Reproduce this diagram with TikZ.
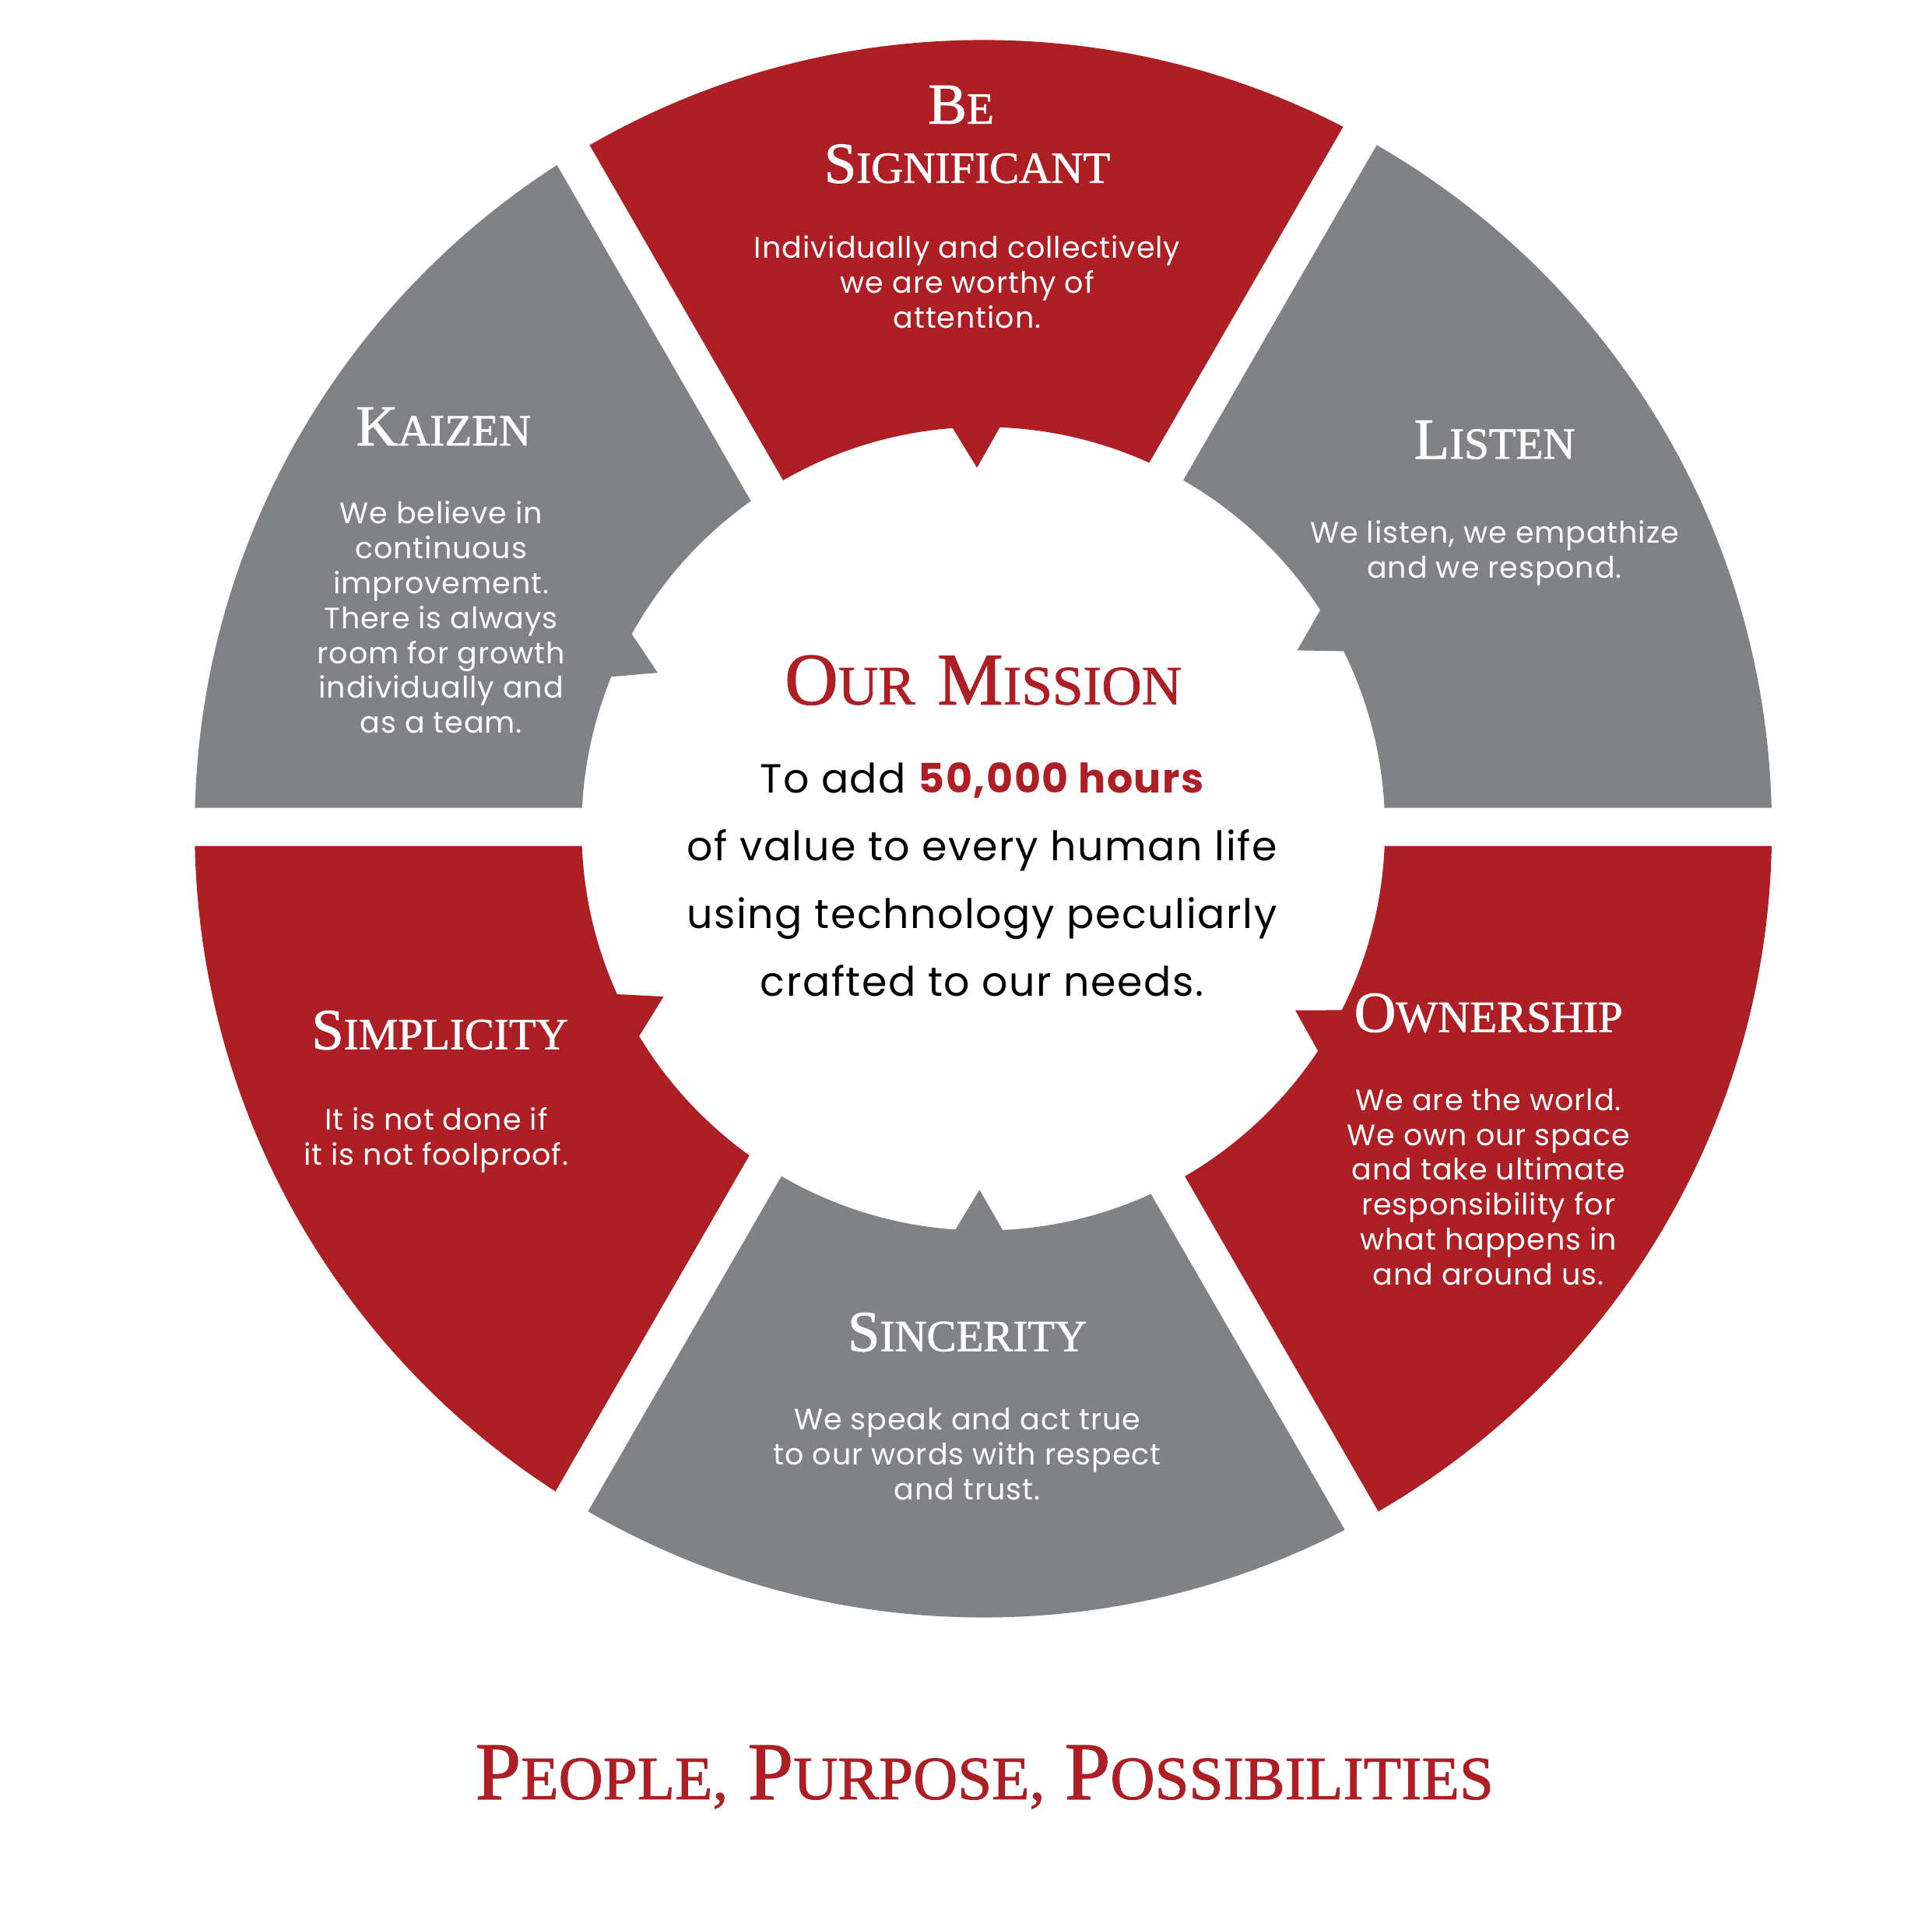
\documentclass[tikz,border=0pt]{standalone}
\usepackage{fontspec}
\usetikzlibrary{calc}
\newfontfamily\bodyfont{Poppins}[LetterSpace=2.5]
\newfontfamily\missionfont{Poppins}[LetterSpace=3]
\newfontfamily\capsfont{Liberation Serif}[FakeBold=1.2]
\definecolor{valred}{HTML}{AD1F24}
\definecolor{valgray}{HTML}{818285}
% a word in caps with a larger initial: sizes, initial, rest
\newcommand\scw[4]{{\fontsize{#1}{#1}\selectfont #3}{\fontsize{#2}{#2}\selectfont #4}}

\begin{document}
\begin{tikzpicture}[x=0.5pt,y=0.5pt,
  segtitle/.style={text=white, font=\capsfont, inner sep=0pt},
  segbody/.style={text=white, font=\bodyfont\fontsize{12}{14.15}\selectfont, align=center, inner sep=0pt},
  redcaps/.style={text=valred, font=\capsfont, inner sep=0pt}]
\useasboundingbox (0,0) rectangle (1568,1566);
\coordinate (O) at (798,893.5);
\coordinate (G) at (780,895);

% six ring sectors separated by straight gaps, each with a pointer towards the centre
\foreach \a/\p/\c in {0/29.6/valgray, 60/91/valred, 120/154.4/valgray,
                      180/207.7/valred, 240/269.4/valgray, 300/329.8/valred} {
  \begin{scope}
    \clip ($(G)+(\a+30:31)$) -- ++(\a:2000) -- ++(\a+120:2000) -- cycle;
    \fill[\c, even odd rule] (O) circle[radius=640] (O) circle[radius=326];
  \end{scope}
  \fill[\c] ($(O)+(\p:293)$) -- ($(O)+(\p+3.9:332)$) -- ($(O)+(\p-3.9:332)$) -- cycle;
}

% sector labels
\node[segtitle] (tBe)  at (780,1481) {\scw{23.5}{18}{B}{E}};
\node[segtitle] (tSig) at (785,1433) {\scw{23.5}{18}{S}{IGNIFICANT}};
\node[segbody]  (bSig) at (785,1337) {Individually and collectively\\we are worthy of\\attention.};

\node[segtitle] (tKai) at (360,1220) {\scw{23.5}{18}{K}{AIZEN}};
\node[segbody]  (bKai) at (358,1065) {We believe in\\continuous\\improvement.\\There is always\\room for growth\\individually and\\as a team.};

\node[segtitle] (tLis) at (1213,1209) {\scw{23.5}{18}{L}{ISTEN}};
\node[segbody]  (bLis) at (1213,1117) {We listen, we empathize\\and we respond.};

\node[segtitle] (tOwn) at (1208,744) {\scw{23.5}{18}{O}{WNERSHIP}};
\node[segbody]  (bOwn) at (1208,603) {We are the world.\\We own our space\\and take ultimate\\responsibility for\\what happens in\\and around us.};

\node[segtitle] (tSim) at (357,730) {\scw{23.5}{18}{S}{IMPLICITY}};
\node[segbody]  (bSim) at (354,641) {It is not done if\\it is not foolproof.};

\node[segtitle] (tSin) at (785,485) {\scw{23.5}{18}{S}{INCERITY}};
\node[segbody]  (bSin) at (785,386) {We speak and act true\\to our words with respect\\and trust.};

% centre
\node[redcaps] (mTitle) at (798,1014) {\scw{30}{22.5}{O}{UR}\hspace{9pt}\scw{30}{22.5}{M}{ISSION}};
\node[font=\missionfont\fontsize{16.5}{27.5}\selectfont, align=center, inner sep=0pt] (mBody) at (797,852)
  {To add {\bfseries\color{valred}50,000 hours}\\of value to every human life\\using technology peculiarly\\crafted to our needs.};

% motto
\node[redcaps] (motto) at (799,124) {\scw{33.3}{25}{P}{EOPLE,}\hspace{8pt}\scw{33.3}{25}{P}{URPOSE,}\hspace{8pt}\scw{33.3}{25}{P}{OSSIBILITIES}};
\end{tikzpicture}
\end{document}
